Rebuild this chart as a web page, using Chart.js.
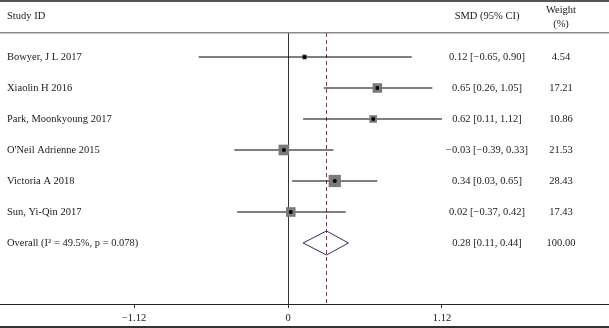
<!DOCTYPE html>
<html>
<head>
<meta charset="utf-8">
<script src="https://cdn.jsdelivr.net/npm/chart.js@4"></script>
<style>
  html, body { margin: 0; padding: 0; background: #fff; }
  canvas { display: block; }
</style>
</head>
<body>
<canvas id="forest" width="609" height="328"></canvas>
<script>
const studies = ['Bowyer, J L 2017', 'Xiaolin H 2016', 'Park, Moonkyoung 2017', "O'Neil Adrienne 2015", 'Victoria A 2018', 'Sun, Yi-Qin 2017'];
const smd = [0.12, 0.65, 0.62, -0.03, 0.34, 0.02];
const ciLow = [-0.65, 0.26, 0.11, -0.39, 0.03, -0.37];
const ciHigh = [0.90, 1.05, 1.12, 0.33, 0.65, 0.42];
const weights = [4.54, 17.21, 10.86, 21.53, 28.43, 17.43];
const overallLabel = 'Overall (I\u00b2 = 49.5%, p = 0.078)';
const overall = [0.28, 0.11, 0.44]; // est, low, high
const overallWeight = '100.00';
const xTicks = [-1.12, 0, 1.12];

const FONT = '10.5px "Liberation Serif", "DejaVu Serif", serif';
const yMin = -0.774, yMax = 7.968;

const fmt = v => v.toFixed(2).replace('-', '\u2212');
const ciText = i => fmt(smd[i]) + ' [' + fmt(ciLow[i]) + ', ' + fmt(ciHigh[i]) + ']';

const datasets = [];
// confidence interval lines
studies.forEach((s, i) => {
  datasets.push({
    data: [{x: ciLow[i], y: i}, {x: ciHigh[i], y: i}],
    showLine: true, borderColor: '#000', borderWidth: 1.1, pointRadius: 0, order: 3
  });
});
// weight squares
datasets.push({
  data: smd.map((v, i) => ({x: v, y: i})),
  pointStyle: 'rect',
  pointRadius: weights.map(w => 2.3 * Math.sqrt(w) / Math.SQRT2),
  backgroundColor: '#7a7a7a', borderColor: '#7a7a7a', borderWidth: 0, order: 2
});
// centre dots
datasets.push({
  data: smd.map((v, i) => ({x: v, y: i})),
  pointRadius: 2, backgroundColor: '#000', borderWidth: 0, order: 1
});
// overall diamond
const oy = studies.length, dh = 12 / 31;
datasets.push({
  data: [
    {x: overall[1], y: oy}, {x: overall[0], y: oy - dh},
    {x: overall[2], y: oy}, {x: overall[0], y: oy + dh},
    {x: overall[1], y: oy}
  ],
  showLine: true, borderColor: '#2e2e5c', borderWidth: 1, pointRadius: 0, order: 1
});
// overall estimate dashed line
datasets.push({
  data: [{x: overall[0], y: yMin}, {x: overall[0], y: yMax}],
  showLine: true, borderColor: '#a3283a', borderWidth: 1, borderDash: [4, 3], pointRadius: 0, order: 4
});

const textColumns = {
  id: 'textColumns',
  afterDraw(chart) {
    const ctx = chart.ctx, y = chart.scales.y;
    ctx.save();
    // frame lines
    ctx.fillStyle = '#555';
    ctx.fillRect(0, 0, chart.width, 2);
    ctx.fillStyle = '#8a8a8a';
    ctx.fillRect(0, 32, chart.width, 1.5);
    ctx.fillStyle = '#333';
    ctx.fillRect(0, 326, chart.width, 2);

    ctx.font = FONT;
    ctx.fillStyle = '#1a1a1a';
    ctx.textBaseline = 'middle';
    ctx.textAlign = 'left';
    ctx.fillText('Study ID', 7, 16);
    ctx.textAlign = 'center';
    ctx.fillText('SMD (95% CI)', 487, 16);
    ctx.fillText('Weight', 561, 10);
    ctx.fillText('(%)', 561, 24);

    studies.forEach((s, i) => {
      const py = y.getPixelForValue(i);
      ctx.textAlign = 'left';
      ctx.fillText(s, 7, py);
      ctx.textAlign = 'center';
      ctx.fillText(ciText(i), 487, py);
      ctx.fillText(weights[i].toFixed(2), 561, py);
    });
    const py = y.getPixelForValue(oy);
    ctx.textAlign = 'left';
    ctx.fillText(overallLabel, 7, py);
    ctx.textAlign = 'center';
    ctx.fillText(fmt(overall[0]) + ' [' + fmt(overall[1]) + ', ' + fmt(overall[2]) + ']', 487, py);
    ctx.fillText(overallWeight, 561, py);
    ctx.restore();
  }
};

new Chart(document.getElementById('forest'), {
  type: 'scatter',
  data: { datasets: datasets },
  options: {
    responsive: false,
    animation: false,
    layout: { autoPadding: false, padding: { top: 33, left: 0, right: 0, bottom: 0 } },
    plugins: { legend: { display: false }, tooltip: { enabled: false } },
    scales: {
      x: {
        type: 'linear', min: -2.095, max: 2.335,
        afterBuildTicks: s => { s.ticks = xTicks.map(v => ({value: v})); },
        afterFit: s => { s.height = 24; s.paddingLeft = 0; s.paddingRight = 0; },
        grid: {
          color: c => (c.tick && c.tick.value === 0) ? '#333' : 'rgba(0,0,0,0)',
          tickColor: '#333', tickLength: 4, drawTicks: true
        },
        border: { display: true, color: '#222', width: 1 },
        ticks: {
          color: '#1a1a1a', padding: 4,
          font: { family: '"Liberation Serif", serif', size: 10.5 },
          callback: v => v === 0 ? '0' : fmt(v)
        }
      },
      y: { type: 'linear', display: false, reverse: true, min: yMin, max: yMax }
    }
  },
  plugins: [textColumns]
});
</script>
</body>
</html>
